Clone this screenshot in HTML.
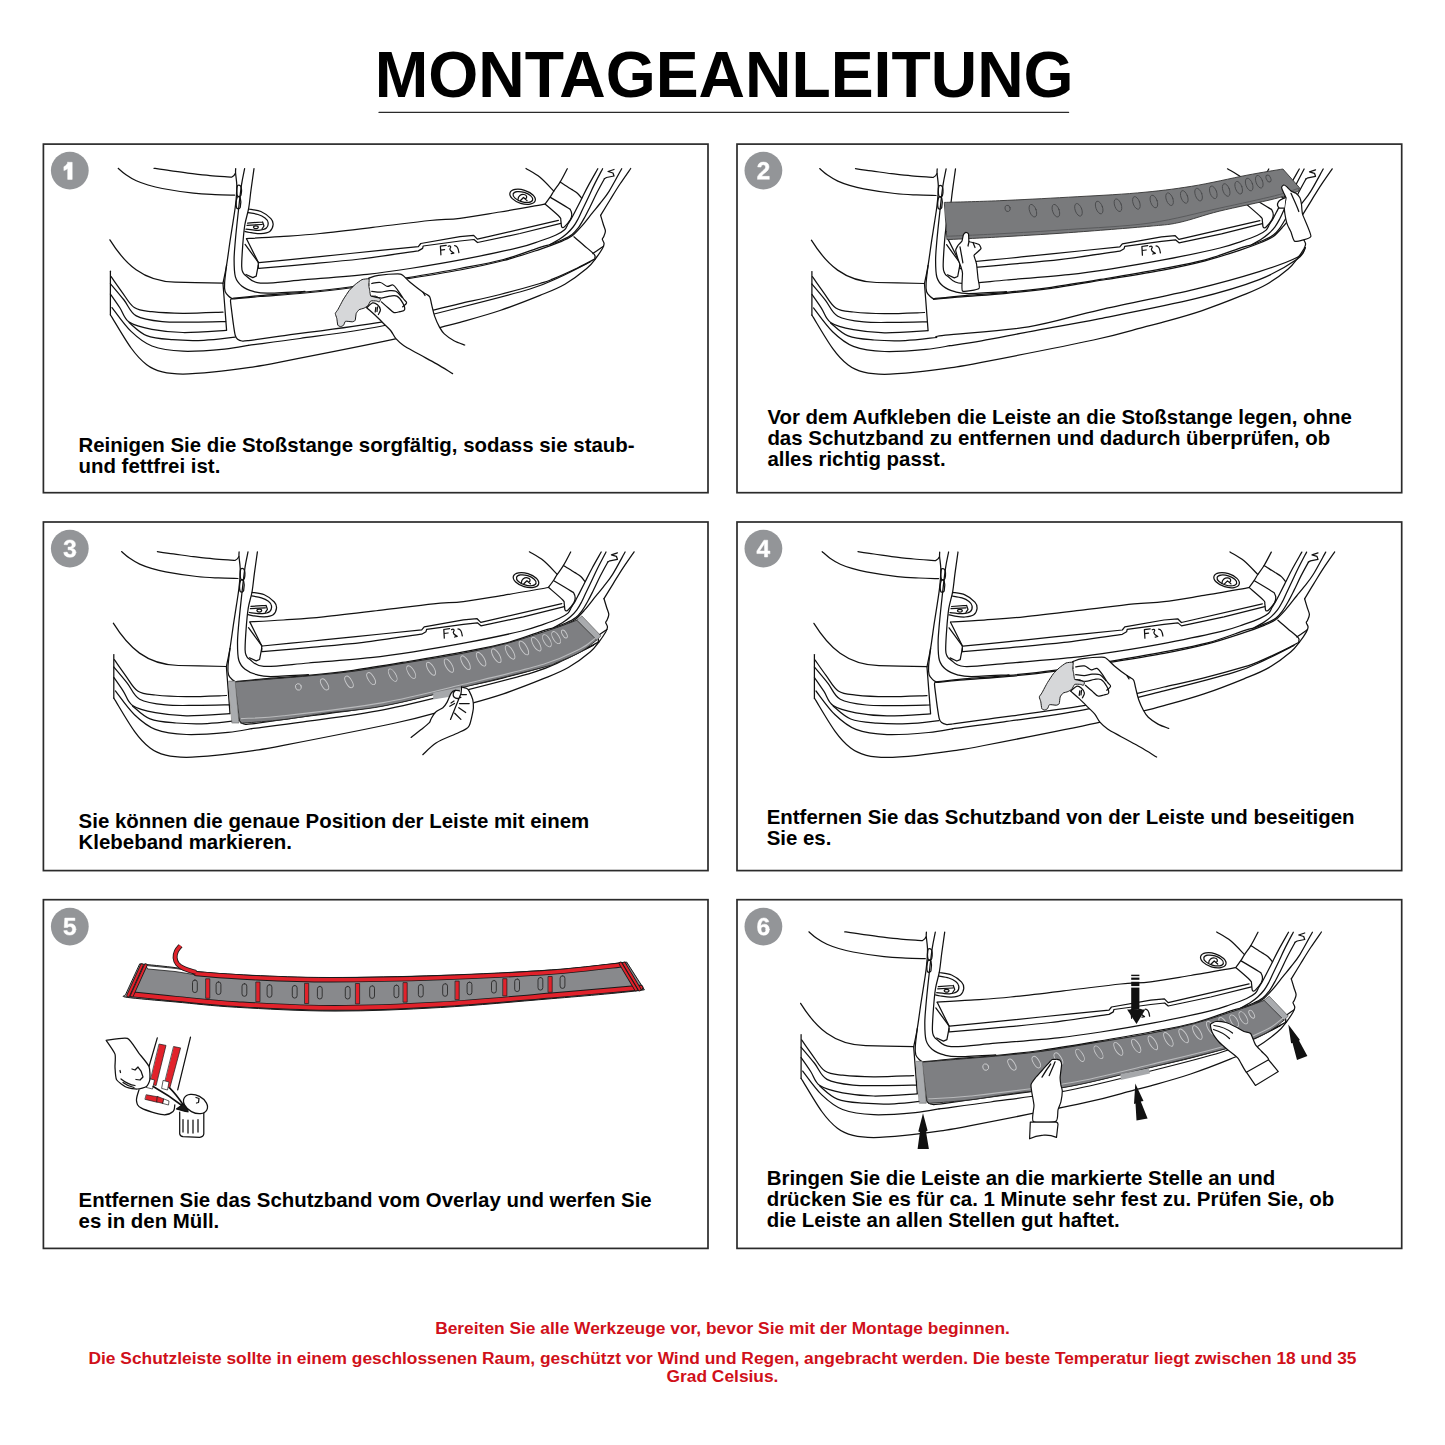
<!DOCTYPE html>
<html><head><meta charset="utf-8">
<style>
html,body{margin:0;padding:0;background:#fff;}
body{width:1445px;height:1445px;position:relative;overflow:hidden;font-family:"Liberation Sans",sans-serif;}
.title{position:absolute;left:374.7px;top:39.8px;font-size:64.3px;font-weight:bold;line-height:71px;color:#000;white-space:nowrap;}
.uline{position:absolute;left:379px;top:111.5px;width:690px;height:1.3px;background:#333;}
.box{position:absolute;width:663px;height:347px;border:1.7px solid #2b2b2b;box-sizing:content-box;}
.num{position:absolute;width:38px;height:38px;border-radius:50%;background:#939598;color:#fff;font-weight:bold;font-size:24.5px;line-height:38px;text-align:center;-webkit-text-stroke:0.9px #fff;}
.txt{position:absolute;font-size:20.43px;font-weight:bold;line-height:21px;color:#000;white-space:nowrap;}
.red{position:absolute;left:0;width:1445px;text-align:center;color:#d0101a;font-weight:bold;font-size:17.36px;line-height:18px;white-space:nowrap;}
svg{position:absolute;left:0;top:0;}
</style></head><body>
<div class="title">MONTAGEANLEITUNG</div>



<div class="txt" style="left:78.5px;top:434.5px">Reinigen Sie die Stoßstange sorgfältig, sodass sie staub-<br>und fettfrei ist.</div>
<div class="txt" style="left:767.4px;top:406.5px">Vor dem Aufkleben die Leiste an die Stoßstange legen, ohne<br>das Schutzband zu entfernen und dadurch überprüfen, ob<br>alles richtig passt.</div>
<div class="txt" style="left:78.6px;top:811.3px">Sie können die genaue Position der Leiste mit einem<br>Klebeband markieren.</div>
<div class="txt" style="left:766.7px;top:807.2px">Entfernen Sie das Schutzband von der Leiste und beseitigen<br>Sie es.</div>
<div class="txt" style="left:78.6px;top:1189.9px">Entfernen Sie das Schutzband vom Overlay und werfen Sie<br>es in den Müll.</div>
<div class="txt" style="left:766.7px;top:1167.7px">Bringen Sie die Leiste an die markierte Stelle an und<br>drücken Sie es für ca. 1 Minute sehr fest zu. Prüfen Sie, ob<br>die Leiste an allen Stellen gut haftet.</div>

<div class="red" style="top:1318.7px">Bereiten Sie alle Werkzeuge vor, bevor Sie mit der Montage beginnen.</div>
<div class="red" style="top:1348.8px">Die Schutzleiste sollte in einem geschlossenen Raum, geschützt vor Wind und Regen, angebracht werden. Die beste Temperatur liegt zwischen 18 und 35<br>Grad Celsius.</div>

<svg width="1445" height="1445" viewBox="0 0 1445 1445" fill="none" stroke="#111" stroke-width="1.25" stroke-linecap="round" stroke-linejoin="round">
<g stroke="#2b2b2b" stroke-width="1.7" fill="none" stroke-linejoin="miter">
<rect x="43.4" y="144.1" width="664.6" height="348.6"/><rect x="737.0" y="144.1" width="664.7" height="348.6"/>
<rect x="43.4" y="522.0" width="664.6" height="348.6"/><rect x="737.0" y="522.0" width="664.7" height="348.6"/>
<rect x="43.4" y="899.7" width="664.6" height="348.7"/><rect x="737.0" y="899.7" width="664.7" height="348.7"/>
</g>
<path d="M379,112.4L1068.6,112.4" stroke="#2a2a2a" stroke-width="1.2"/>
<!--ART-->
<defs><g id="car">
<path d="M118.2,168.3C119.5,169.4 123.0,172.7 126.0,174.8C129.0,176.9 132.6,179.1 136.3,180.8C140.0,182.5 143.7,183.7 148.0,185.0C152.3,186.3 154.7,187.1 162.3,188.5C169.9,189.9 184.6,192.2 193.4,193.2C202.2,194.2 208.1,194.3 215.0,194.6C221.9,194.9 231.3,195.1 234.6,195.2"/>
<path d="M154.0,168.3C156.7,168.7 164.0,169.8 170.0,170.6C176.0,171.4 183.3,172.6 190.0,173.4C196.7,174.2 203.1,175.0 210.0,175.6C216.9,176.2 228.0,176.9 231.6,177.2C233,176.5 235,174.5 235.4,173.3"/>
<path d="M235.7,168.6C235.7,169.4 235.4,170.6 235.6,173.3C235.8,176.0 236.7,181.2 236.8,185.0C236.9,188.8 236.6,192.5 236.4,196.0C236.2,199.5 235.9,201.8 235.4,206.0C234.9,210.2 234.1,215.2 233.2,220.9C232.3,226.6 231.3,232.7 230.2,240.0C229.1,247.3 227.8,257.8 226.6,265.0C225.4,272.2 223.6,280.2 223.0,283.2"/>
<path d="M223.0,283.7C223.3,287.6 224.2,299.2 224.8,307.0C225.4,314.8 226.3,326.5 226.6,330.4"/>
<path d="M226.6,265.0C226.3,268.0 224.8,278.6 224.6,283.0C224.3,287.4 224.4,289.1 225.1,291.4C225.8,293.6 227.8,295.3 229.0,296.5C230.2,297.7 231.5,298.2 232.0,298.5"/>
<path d="M244.6,168.6C244.1,171.3 242.5,178.0 241.5,184.9C240.5,191.8 239.5,200.8 238.5,210.0C237.5,219.2 236.1,231.7 235.4,240.0C234.7,248.3 234.1,253.5 234.1,259.6C234.1,265.8 234.1,272.5 235.4,276.9C236.7,281.3 238.7,283.5 241.7,285.9C244.7,288.3 249.1,290.2 253.4,291.4C257.7,292.6 258.7,293.2 267.3,293.2C275.9,293.2 298.7,291.7 305.0,291.4"/>
<path d="M254.0,168.6C253.5,172.2 251.9,183.4 251.0,190.0C250.1,196.6 249.7,202.4 248.7,208.2C247.7,214.0 245.8,218.7 244.8,225.0C243.8,231.3 243.2,238.9 242.7,245.8C242.2,252.7 241.6,262.1 241.7,266.5C241.8,270.9 242.2,270.9 243.0,272.5C243.8,274.1 243.6,274.4 246.5,276.2C249.4,278.0 250.6,282.5 260.4,283.1C270.1,283.7 287.2,281.2 305.0,279.7C322.8,278.2 349.7,276.2 367.2,274.3C384.7,272.4 394.0,271.0 410.0,268.5C426.0,266.0 444.9,262.9 463.0,259.4C481.1,255.9 505.6,250.8 518.4,247.7C531.2,244.6 533.7,243.1 540.0,241.0C546.3,238.9 551.9,236.9 556.0,235.0C560.1,233.1 562.6,231.6 564.6,229.8C566.6,228.0 566.8,226.1 568.0,224.0C569.2,221.9 570.8,219.7 572.1,217.3C573.4,214.9 574.3,213.1 576.0,209.8C577.7,206.5 580.2,201.6 582.3,197.4C584.4,193.2 586.1,189.7 588.7,184.9C591.3,180.1 596.3,171.4 597.8,168.7"/>
<path d="M237.5,185.5C236.5,188 236.6,194 237.5,196C239,197 240.5,196.5 241,195C241.7,192 241.6,188 240.6,186C239.5,185 238.3,185 237.5,185.5Z"/>
<path d="M237.3,197C236,200 235.8,206 236.8,208.3C238,209.2 239.5,208.8 240.2,207.5C241,204 241,200 240.2,197.5C239.3,196.3 238,196.3 237.3,197Z"/>
<path d="M248.7,209.0C250.7,209.4 257.2,209.9 260.9,211.5C264.6,213.1 268.9,216.5 270.9,218.7C272.9,220.9 273.3,222.7 273.1,224.8C272.9,226.9 271.8,229.9 269.8,231.4C267.8,232.9 264.2,233.4 260.9,233.6C257.6,233.8 252.5,232.9 249.8,232.5C247.1,232.1 245.7,231.6 244.9,231.4"/>
<path d="M248.2,212.6C249.8,212.9 255.2,213.6 258.0,214.5C260.8,215.4 263.3,216.7 265.0,218.0C266.7,219.3 267.9,220.9 268.1,222.6C268.3,224.3 268.0,226.8 266.4,228.1C264.8,229.4 262.1,230.1 258.7,230.3C255.3,230.5 248.1,229.4 246.0,229.2"/>
<path d="M247.6,223.1L262.6,222M247,225.3L262,224.5M262.6,222L264,226L262,229"/>
<path d="M253.5,227.3a2.4,1.4 0 1,0 4.8,0a2.4,1.4 0 1,0 -4.8,0"/>
<path d="M246.5,238.6C252.1,238.3 267.8,237.5 280.0,236.7C292.2,235.8 303.3,235.2 320.0,233.5C336.7,231.8 361.7,228.7 380.0,226.5C398.3,224.3 416.7,221.9 430.0,220.5C443.3,219.1 448.3,219.7 460.0,218.3C471.7,216.9 485.9,214.3 500.0,212.0C514.1,209.7 537.2,205.5 544.7,204.2"/>
<path d="M246.5,238.8L258.3,262.4L258.3,268.3"/>
<path d="M258.9,262.7C266.6,261.9 289.8,259.7 305.0,258.2C320.2,256.7 331.1,255.4 350.0,253.5C368.9,251.6 406.9,247.8 418.3,246.6L420.8,243.5L460,236.6L473.7,235.4L477.4,239.1L558.4,220.4"/>
<path d="M258.9,268.3C266.6,267.6 288.1,265.9 305.0,264.4C321.9,262.8 341.1,261.2 360.0,259.0C378.9,256.8 408.6,252.2 418.3,250.9L422.6,248.4L423.2,246L460,241L474,239.5L477.5,242.5L520,233.5L560.8,223.3"/>
<path d="M245.1,244.4L258.3,262.4M258.3,265.1L256.2,276.2L252.8,277.6L246,274.5"/>
<path d="M526.0,168.5C528.3,170.0 535.4,173.5 540.0,177.3C544.6,181.1 551.5,188.8 553.8,191.1"/>
<path d="M567.3,168.7C566.1,170.9 562.4,178.4 560.1,182.1C557.9,185.8 555.4,188.7 553.8,191.1C552.2,193.5 551.8,194.6 550.4,196.7C549.0,198.8 546.1,202.7 545.2,203.9"/>
<path d="M545.2,204.2C547.6,206.3 556.8,214.0 559.4,216.7C562.0,219.4 560.4,218.6 560.8,220.2C561.1,221.8 561.2,225.2 561.5,226.4C561.8,227.6 562.2,227.5 562.8,227.5C563.4,227.5 563.6,227.7 564.9,226.4C566.2,225.1 569.2,221.4 570.4,219.5C571.5,217.6 571.8,216.3 571.8,214.7C571.8,213.1 571.1,211.0 570.4,209.8C569.7,208.7 571.0,209.9 567.7,207.8C564.4,205.7 553.3,199.1 550.4,197.4"/>
<path d="M560.1,182.1C561.9,183.3 568.2,187.2 571.1,189.1C574.0,190.9 575.7,191.7 577.4,193.2C579.1,194.7 580.8,197.3 581.5,198.1"/>
<path d="M602.6,168.7C601.2,171.4 596.6,180.1 594.2,184.9C591.8,189.7 590.3,193.2 588.3,197.4C586.3,201.6 584.1,206.3 582.4,209.8C580.7,213.3 579.8,215.7 578.3,218.5C576.8,221.3 575.4,224.0 573.5,226.5C571.6,229.0 569.4,231.3 567.0,233.5C564.6,235.7 561.8,237.7 559.0,239.5C556.2,241.3 551.5,243.7 550.0,244.5"/>
<path d="M604.4,178.7L606.5,177.5L614,176L613,173L608,171.5L614,169.5"/>
<path d="M604.4,178.7C603.2,181.0 599.4,187.8 597.0,192.5C594.6,197.2 592.1,202.8 590.0,207.0C587.9,211.2 586.5,214.1 584.6,217.5C582.7,220.9 580.6,224.7 578.5,227.5C576.4,230.3 574.9,232.4 572.1,234.5C569.4,236.6 565.7,238.3 562.0,240.0C558.3,241.7 553.7,243.3 550.0,244.5C546.3,245.7 547.7,244.8 540.0,247.3C532.3,249.8 516.9,256.0 503.6,259.5C490.3,263.0 476.5,265.4 460.0,268.5C443.5,271.6 423.0,275.1 404.6,278.2C386.2,281.3 366.4,284.7 349.8,287.0C333.2,289.3 320.0,290.6 305.0,292.0C290.0,293.4 272.2,294.4 260.0,295.5C247.8,296.6 236.7,298.0 232.0,298.5"/>
<path d="M621.7,168.7C619.6,172.4 612.8,185.3 609.2,191.1C605.6,196.9 602.8,199.9 600.0,203.5C597.2,207.1 595.7,208.8 592.6,212.6C589.5,216.4 585.0,222.5 581.5,226.4C578.0,230.3 575.2,233.6 571.8,236.1C568.3,238.6 566.1,239.5 560.8,241.7C555.5,243.9 549.5,246.2 540.0,249.3C530.5,252.4 516.9,257.1 503.6,260.5C490.3,263.9 476.5,266.9 460.0,270.0C443.5,273.1 423.0,276.2 404.6,279.2C386.2,282.2 366.4,285.7 349.8,288.0C333.2,290.3 320.0,291.6 305.0,293.0C290.0,294.4 272.2,295.5 260.0,296.5C247.8,297.5 236.7,298.6 232.0,299.0"/>
<path d="M630.7,168.5C628.9,171.1 623.5,178.8 620.0,184.0C616.5,189.2 613.2,194.8 610.0,200.0C606.8,205.2 602.2,212.8 600.6,215.4"/>
<path d="M600.6,215.4C601.1,217.0 602.7,222.4 603.5,225.0C604.3,227.6 605.4,229.2 605.4,231.2C605.4,233.2 604.0,235.7 603.5,237.0C603.0,238.3 602.2,238.2 602.3,239.3C602.4,240.4 604.1,242.1 604.1,243.7C604.1,245.3 603.6,246.3 602.3,248.7C600.9,251.1 598.6,254.7 596.0,258.0C593.4,261.3 591.9,264.2 586.7,268.6C581.5,273.0 572.7,279.7 564.9,284.2C557.1,288.7 550.8,291.0 540.0,295.4C529.2,299.8 513.3,306.0 500.0,310.5C486.7,315.0 469.9,319.5 460.0,322.3C450.1,325.1 452.0,324.4 440.7,327.3C429.4,330.2 418.8,333.9 392.0,339.7C365.2,345.5 303.7,357.5 280.0,362.1C256.3,366.7 261.0,365.7 250.0,367.3C239.0,368.9 225.4,370.8 214.2,371.9C203.0,373.0 191.7,374.0 183.0,374.0C174.3,374.0 168.4,373.4 162.3,371.9C156.2,370.3 151.9,368.7 146.7,364.7C141.5,360.7 137.1,356.3 131.1,348.0C125.0,339.7 113.9,320.3 110.4,314.8"/>
<path d="M109.9,239.9C125,264 143,281.5 175,282.2C190,282.5 210,282.9 223,283.2"/>
<path d="M110.4,271.2L110.4,314.8"/>
<path d="M110.9,276.4C112.8,279.0 118.1,286.8 122.0,292.0C125.9,297.2 129.3,304.3 134.3,307.6C139.3,310.9 143.8,310.8 151.9,311.7C160.0,312.6 171.2,313.2 183.0,313.3C194.8,313.4 216.3,312.4 223.0,312.2"/>
<path d="M110.4,283.7C112.7,286.4 119.7,294.6 124.0,300.0C128.3,305.4 129.9,312.3 136.3,315.9C142.7,319.5 152.8,320.6 162.3,321.6C171.8,322.6 182.9,322.1 193.4,322.1C203.9,322.1 220.2,321.7 225.6,321.6"/>
<path d="M110.4,294.1C112.0,296.4 116.9,303.3 120.0,308.0C123.1,312.7 123.8,318.5 129.1,322.1C134.4,325.7 142.9,327.7 151.9,329.4C160.9,331.1 170.6,332.3 183.0,332.5C195.4,332.7 218.9,330.8 226.1,330.4"/>
<path d="M129.1,322.6C132.0,324.8 139.4,332.8 146.7,335.6C154.0,338.5 163.2,338.9 172.7,339.7C182.2,340.5 193.4,340.7 203.8,340.3C214.2,339.9 229.8,337.7 235.0,337.2"/>
<path d="M112.0,307.6C115.2,311.6 124.4,325.0 131.1,331.4C137.8,337.8 143.2,342.7 151.9,346.0C160.6,349.3 170.9,350.7 183.0,351.2C195.1,351.7 213.7,350.1 224.6,349.1C235.5,348.1 244.4,346.0 248.4,345.4"/>
<path d="M440.4,246.2L440.9,254.8M440.4,246.2L446.2,245.4M440.7,250.2L444.6,249.7M448.2,246.3C450,245.3 451.6,246.4 450.2,248.2C449,249.8 451.2,251.6 453.8,253.1L451.2,253.7M454.6,245.6C456.8,245.6 458.4,248.6 458.9,252.6"/>
<ellipse cx="522.6" cy="196.8" rx="13.2" ry="6.8" transform="rotate(17 522.6 196.8)"/>
<ellipse cx="522.9" cy="197" rx="10.2" ry="4.8" transform="rotate(17 522.9 197)"/>
<path d="M518,199.5C518,196 521,194 524,194.5C527,195 527.5,197.5 525.5,199M520.5,200.5L523.5,197.5L527,200.5"/>
</g>
<g id="ins">
<path d="M573.9,236.8C575.6,238.2 580.6,242.6 584.0,245.5C587.4,248.4 592.4,252.2 594.2,254.3C596.0,256.4 594.7,257.4 594.8,258.0"/>
<path d="M592.9,253.6C593.8,253.0 596.2,251.2 598.0,250.0C599.8,248.8 602.6,246.8 603.5,246.2"/>
<path d="M595.4,258.6C592.4,260.2 584.5,264.6 577.4,268.0C570.2,271.4 558.7,276.6 552.5,279.2C546.3,281.8 548.8,280.9 540.0,283.5C531.2,286.1 513.3,291.1 500.0,294.5C486.7,297.9 470.9,301.1 460.0,303.6C449.1,306.2 447.9,306.7 434.5,309.8C421.1,312.9 405.4,317.9 379.7,322.3C353.9,326.7 301.9,333.1 280.0,336.2C258.1,339.2 254.7,339.8 248.4,340.6C242.1,341.4 243.8,341.2 242.0,341.0C240.2,340.8 238.7,340.1 237.6,339.2C236.5,338.3 236.0,337.9 235.3,335.5C234.6,333.1 234.1,328.9 233.5,325.0C232.9,321.1 232.3,316.0 231.8,312.0C231.3,308.0 230.6,303.2 230.5,301.0C230.4,298.8 231.2,299.1 231.3,298.7"/>
<path d="M590.0,262.0C585.0,264.5 570.0,272.5 560.0,277.0C550.0,281.5 546.7,283.9 530.0,289.0C513.3,294.1 485.1,301.2 460.0,307.5C434.9,313.8 406.4,321.3 379.7,326.5C353.0,331.7 321.9,335.4 300.0,338.5C278.1,341.6 257.0,344.2 248.4,345.4"/>
</g>
<g id="hand1"><path d="M368.8,278.2C369.4,275.7 375.5,275.7 378.4,275.3C381.3,274.9 395.4,273.8 397.8,273.8C400.2,273.8 401.4,274.4 402.7,275.3C404.0,276.2 408.4,280.8 410.4,282.5C412.4,284.2 421.4,291.0 423.0,292.2C424.6,293.4 426.2,294.1 426.9,294.6C427.6,295.1 429.3,296.1 429.8,297.1C430.3,298.1 431.2,302.9 431.7,304.8C432.2,306.7 433.9,314.2 434.7,316.4C435.5,318.6 438.5,325.4 439.5,327.1C440.5,328.9 442.9,332.5 444.3,333.9C445.8,335.3 452.0,339.6 454.0,340.7C456.0,341.8 463.1,343.9 464.7,345.0C466.3,346.1 471.2,349.1 470.0,352.0C468.8,354.9 455.9,372.4 452.6,373.6C449.3,374.8 440.1,365.9 436.6,363.9C433.1,361.9 420.5,355.1 417.2,353.3C413.9,351.5 405.7,347.0 403.6,345.5C401.5,344.0 397.2,340.1 395.9,338.7C394.6,337.2 392.2,332.4 391.0,331.0C389.8,329.6 385.9,325.8 384.3,324.2C382.8,322.6 377.2,317.1 375.5,315.5C373.8,313.9 367.2,309.2 366.8,307.7C366.4,306.1 371.8,302.9 372.0,300.0C372.2,297.1 368.2,280.7 368.8,278.2Z" fill="#fff" stroke="none"/><path d="M368.8,278.7C368.2,278.7 363.1,279.1 362.0,279.6C360.9,280.1 356.2,283.6 355.2,284.5C354.1,285.4 350.4,289.1 349.4,290.3C348.4,291.5 344.6,297.4 343.6,299.0C342.6,300.6 338.5,308.5 337.8,309.7C337.1,310.9 335.4,312.8 335.3,313.5C335.2,314.2 336.6,317.4 336.8,318.4C337.0,319.4 337.5,324.5 337.8,325.2C338.1,325.9 340.2,326.6 340.7,326.6C341.2,326.6 343.2,325.6 343.6,325.2C344.0,324.8 344.8,321.6 345.5,321.3C346.2,321.0 351.5,321.9 352.3,321.8C353.1,321.7 354.9,321.0 355.2,320.3C355.5,319.6 355.9,314.4 356.2,313.5C356.5,312.6 358.5,310.1 359.1,309.7C359.7,309.3 363.2,308.5 363.9,308.2C364.6,307.9 367.2,306.4 367.8,305.8C368.4,305.2 370.0,301.4 370.7,301.0C371.4,300.6 375.8,300.9 376.5,301.0C377.2,301.1 379.1,302.1 379.4,301.9C379.7,301.7 380.7,299.5 380.4,299.0C380.1,298.5 376.3,296.3 375.5,296.1C374.7,295.9 371.2,296.6 370.7,296.1C370.2,295.6 369.9,291.2 369.7,290.3C369.5,289.4 368.8,286.3 368.8,285.4C368.8,284.5 369.2,280.2 369.2,279.6C369.2,279.0 369.4,278.7 368.8,278.7Z" fill="#d6d7d9" stroke="#1a1a1a" stroke-width="1"/><path d="M368.8,278.2C370.4,277.7 373.6,276.0 378.4,275.3C383.2,274.6 393.8,273.8 397.8,273.8C401.9,273.8 400.6,273.9 402.7,275.3C404.8,276.8 407.0,279.7 410.4,282.5C413.8,285.3 420.2,290.2 423.0,292.2C425.8,294.2 425.8,293.8 426.9,294.6C428.0,295.4 429.0,295.4 429.8,297.1C430.6,298.8 430.9,301.6 431.7,304.8C432.5,308.0 433.4,312.7 434.7,316.4C436.0,320.1 437.9,324.2 439.5,327.1C441.1,330.0 441.9,331.6 444.3,333.9C446.7,336.2 450.6,338.8 454.0,340.7C457.4,342.6 462.9,344.3 464.7,345.0"/>
<path d="M366.8,307.7C368.2,309.0 372.6,312.8 375.5,315.5C378.4,318.2 381.7,321.6 384.3,324.2C386.9,326.8 389.1,328.6 391.0,331.0C392.9,333.4 393.8,336.3 395.9,338.7C398.0,341.1 400.1,343.1 403.6,345.5C407.2,347.9 411.7,350.2 417.2,353.3C422.7,356.4 430.7,360.5 436.6,363.9C442.5,367.3 449.9,372.0 452.6,373.6"/>
<path d="M371.7,283.5C373.1,283.3 377.8,282.0 380.4,282.5C383.0,283.0 385.1,286.0 387.2,286.4C389.3,286.8 391.2,284.4 393.0,285.0C394.8,285.6 396.0,288.0 397.8,290.3C399.6,292.6 402.1,296.9 403.6,299.0C405.1,301.1 406.8,301.6 406.6,302.9C406.5,304.2 403.4,306.1 402.7,306.8"/>
<path d="M371.7,291.3C373.1,291.4 377.7,292.3 380.4,292.2C383.1,292.1 385.5,290.9 388.1,290.8C390.7,290.7 393.6,290.2 395.9,291.3C398.2,292.4 400.7,296.1 401.7,297.1"/>
<path d="M371.7,296.1C373.3,296.4 378.3,298.0 381.4,298.0C384.5,298.0 387.5,296.4 390.1,296.1C392.7,295.8 394.8,295.0 396.9,296.1C399.0,297.2 401.4,300.6 402.7,302.9C404.0,305.2 405.1,308.2 404.6,309.7C404.1,311.1 401.6,311.1 399.8,311.6C398.0,312.1 395.9,313.2 394.0,312.6C392.1,312.0 390.2,309.5 388.1,307.7C386.0,305.9 382.5,302.9 381.4,301.9"/>
<path d="M366.8,307.7C367.8,306.9 370.8,303.4 372.6,302.9C374.4,302.4 376.2,303.7 377.5,304.8C378.8,305.9 380.2,308.1 380.4,309.7C380.5,311.3 378.7,313.7 378.4,314.5"/>
<path d="M375.8,307.5L375.2,312M377.5,307L377,311.5"/>
<path d="M423,292.2L425,295.5"/></g>
<g id="strip"><path d="M231.8,298.6C236.5,298.2 247.8,297.3 260.0,296.3C272.2,295.3 290.0,294.0 305.0,292.6C320.0,291.2 333.2,290.2 349.8,288.0C366.4,285.8 386.2,282.2 404.6,279.2C423.0,276.2 443.5,273.0 460.0,269.8C476.5,266.6 490.3,263.5 503.6,260.0C516.9,256.5 530.8,251.5 540.0,248.6C549.2,245.7 553.1,244.4 558.7,242.4C564.3,240.4 571.1,237.7 573.6,236.8L593.5,256.6C590.8,258.6 584.2,264.6 577.4,268.5C570.6,272.4 558.7,277.1 552.5,279.7C546.3,282.3 555.4,279.9 540.0,284.0C524.6,288.1 486.7,297.5 460.0,304.0C433.3,310.5 402.5,318.5 379.7,322.8C356.9,327.1 339.8,327.6 323.2,329.8C306.6,332.1 293.6,334.7 280.0,336.3C266.4,337.9 248.3,339.2 241.3,339.7C234.3,340.2 238.8,339.6 238.0,339.2C237.2,338.8 236.7,337.7 236.4,337.4Z" fill="#7e7f82" stroke="#2a2a2a" stroke-width="1"/>
<path d="M225.7,297.8 L231.8,297.8 L235.6,339.7 L228.8,339.7Z" fill="#a9abae" stroke="#666" stroke-width="0.6"/>
<path d="M573.6,236.7 L578.5,232.6 L597.6,252.6 L593.5,256.6Z" fill="#a9abae" stroke="#444" stroke-width="0.6"/>
<path d="M238.0,335.3C245.0,334.8 256.4,335.2 280.0,332.5C303.6,329.8 349.7,324.6 379.7,319.3C409.7,314.1 433.3,307.4 460.0,301.0C486.7,294.6 520.5,286.9 540.0,281.0C559.5,275.1 568.3,269.9 577.0,265.5C585.7,261.1 589.5,256.6 592.0,254.8" stroke="#b9babc" stroke-width="1.1"/>
<g stroke="#c9cacc" stroke-width="0.9" fill="none"><ellipse cx="295.0" cy="303.6" rx="2.9" ry="3.3" transform="rotate(-20 295.0 303.6)"/><ellipse cx="321.2" cy="301.1" rx="2.925" ry="6.225" transform="rotate(-31 321.2 301.1)"/><ellipse cx="345.6" cy="298.6" rx="2.9499999999999997" ry="6.45" transform="rotate(-31 345.6 298.6)"/><ellipse cx="367.7" cy="295.3" rx="2.975" ry="6.675" transform="rotate(-31 367.7 295.3)"/><ellipse cx="389.3" cy="291.8" rx="3.0" ry="6.9" transform="rotate(-31 389.3 291.8)"/><ellipse cx="407.8" cy="288.8" rx="3.025" ry="7.125" transform="rotate(-31 407.8 288.8)"/><ellipse cx="427.6" cy="285.4" rx="3.05" ry="7.35" transform="rotate(-31 427.6 285.4)"/><ellipse cx="445.5" cy="282.3" rx="3.0749999999999997" ry="7.575" transform="rotate(-31 445.5 282.3)"/><ellipse cx="462.1" cy="279.4" rx="3.1" ry="7.8" transform="rotate(-31 462.1 279.4)"/><ellipse cx="477.7" cy="275.9" rx="3.1" ry="7.8" transform="rotate(-31 477.7 275.9)"/><ellipse cx="492.9" cy="272.4" rx="3.1" ry="7.8" transform="rotate(-31 492.9 272.4)"/><ellipse cx="506.7" cy="269.0" rx="3.1" ry="7.8" transform="rotate(-31 506.7 269.0)"/><ellipse cx="520.5" cy="264.7" rx="3.1" ry="7.8" transform="rotate(-31 520.5 264.7)"/><ellipse cx="532.9" cy="260.8" rx="3.1" ry="7.8" transform="rotate(-31 532.9 260.8)"/><ellipse cx="543.5" cy="257.4" rx="3.1" ry="6.8" transform="rotate(-31 543.5 257.4)"/><ellipse cx="552.7" cy="254.3" rx="3.1" ry="6.8" transform="rotate(-31 552.7 254.3)"/><ellipse cx="561.0" cy="250.7" rx="2.1" ry="4.4" transform="rotate(-30 561.0 250.7)"/></g></g></defs>
<use href="#car"/><use href="#ins"/><use href="#hand1"/>
<g transform="translate(704,383.4)"><use href="#car"/><use href="#ins"/><use href="#hand1"/></g>
<g transform="translate(3.4,383.3)"><use href="#car"/><use href="#ins"/><use href="#strip"/></g>
<g transform="translate(690.7,763.5)"><use href="#car"/><use href="#ins"/><use href="#strip"/></g>
<g transform="translate(701.5,0.3)"><use href="#car"/></g>
<path d="M235.0,337.2C236.5,336.8 228.5,336.6 243.8,334.8C259.1,333.0 301.1,330.7 326.9,326.5C352.7,322.3 370.6,315.8 398.5,309.5C426.4,303.2 467.5,295.2 494.0,288.8C520.5,282.4 540.7,276.6 557.7,271.3C574.7,266.0 588.2,261.0 595.9,257.0C603.6,253.0 602.5,249.0 603.8,247.4" transform="translate(701.5,0.3)"/>
<path d="M248.4,345.4C253.7,344.6 266.4,342.9 280.0,340.5C293.6,338.1 310.2,334.7 330.0,331.0C349.8,327.3 371.2,323.7 398.5,318.3C425.8,312.9 467.5,304.9 494.0,298.4C520.5,291.9 540.7,285.9 557.7,279.3C574.7,272.7 588.2,263.9 595.9,258.6C603.6,253.3 602.5,249.3 603.8,247.4" transform="translate(701.5,0.3)"/>
<path d="M944.7,202.4C953.8,202.1 978.6,201.6 999.2,200.7C1019.8,199.8 1045.3,198.5 1068.4,197.2C1091.5,195.9 1117.1,194.7 1137.6,192.9C1158.1,191.1 1173.3,189.2 1191.5,186.3C1209.7,183.4 1231.7,178.1 1246.9,175.2C1262.1,172.3 1276.9,170.0 1282.9,169.0L1299.5,187.7L1298.8,191.1C1294.8,192.4 1287.9,195.5 1274.6,198.8C1261.3,202.2 1235.0,207.3 1219.2,211.2C1203.4,215.1 1191.5,219.8 1180.0,222.3C1168.5,224.8 1168.6,224.5 1150.0,226.2C1131.4,227.9 1093.5,230.9 1068.4,232.7C1043.3,234.5 1019.4,235.8 999.2,237.0C979.0,238.2 955.9,239.2 947.3,239.6Z" fill="#797a7c" stroke="#333" stroke-width="0.9"/>
<path d="M947.0,236.3C955.7,235.9 979.0,234.9 999.2,233.8C1019.4,232.7 1043.3,231.3 1068.4,229.5C1093.5,227.7 1124.9,226.6 1150.0,223.0C1175.1,219.4 1198.4,212.7 1219.2,208.2C1240.0,203.7 1261.4,199.1 1274.6,195.8C1287.8,192.5 1294.5,189.6 1298.5,188.3" stroke="#5a5b5d" stroke-width="1"/>
<g stroke="#4a4b4d" stroke-width="0.9" fill="none"><ellipse cx="1007.6" cy="208.4" rx="2.6" ry="3.2" transform="rotate(-15 1007.6 208.4)"/><ellipse cx="1032.9" cy="210.7" rx="3.3" ry="6.6" transform="rotate(-20 1032.9 210.7)"/><ellipse cx="1055.9" cy="210.7" rx="3.3" ry="6.6" transform="rotate(-20 1055.9 210.7)"/><ellipse cx="1078.5" cy="209.8" rx="3.3" ry="6.6" transform="rotate(-20 1078.5 209.8)"/><ellipse cx="1099.2" cy="207.5" rx="3.3" ry="6.6" transform="rotate(-20 1099.2 207.5)"/><ellipse cx="1118.0" cy="205.2" rx="3.3" ry="6.6" transform="rotate(-20 1118.0 205.2)"/><ellipse cx="1136.4" cy="202.9" rx="3.3" ry="6.6" transform="rotate(-20 1136.4 202.9)"/><ellipse cx="1153.9" cy="201.5" rx="3.3" ry="6.6" transform="rotate(-20 1153.9 201.5)"/><ellipse cx="1169.6" cy="199.2" rx="3.3" ry="6.6" transform="rotate(-20 1169.6 199.2)"/><ellipse cx="1184.3" cy="196.9" rx="3.3" ry="6.6" transform="rotate(-20 1184.3 196.9)"/><ellipse cx="1198.6" cy="194.6" rx="3.3" ry="6.6" transform="rotate(-20 1198.6 194.6)"/><ellipse cx="1213.3" cy="192.3" rx="3.3" ry="6.6" transform="rotate(-20 1213.3 192.3)"/><ellipse cx="1226.2" cy="190.0" rx="3.3" ry="6.6" transform="rotate(-20 1226.2 190.0)"/><ellipse cx="1238.7" cy="187.7" rx="3.3" ry="6.6" transform="rotate(-20 1238.7 187.7)"/><ellipse cx="1249.2" cy="184.5" rx="3.3" ry="6.6" transform="rotate(-20 1249.2 184.5)"/><ellipse cx="1259.3" cy="181.7" rx="3.3" ry="6.6" transform="rotate(-20 1259.3 181.7)"/><ellipse cx="1268.5" cy="178.5" rx="2.2" ry="3.6" transform="rotate(-25 1268.5 178.5)"/></g>
<path d="M965.9,232.3C966.3,232.2 968.2,233.2 968.5,234.0C968.8,234.8 968.6,240.8 969.0,241.5C969.4,242.2 972.2,242.2 973.0,242.5C973.8,242.8 978.3,244.0 979.0,244.5C979.7,245.0 981.2,247.8 981.0,248.5C980.8,249.2 977.6,251.9 977.0,252.5C976.4,253.1 974.0,254.6 974.0,255.5C974.0,256.4 976.2,261.9 976.5,263.8C976.8,265.7 977.8,276.2 978.0,278.3C978.2,280.4 980.3,287.4 979.0,288.5C977.7,289.6 963.9,292.3 962.5,291.0C961.1,289.7 962.6,275.4 962.5,273.4C962.4,271.4 961.4,268.2 961.0,267.0C960.6,265.8 958.4,260.4 958.0,259.0C957.6,257.6 955.7,251.3 955.7,250.2C955.7,249.1 957.6,246.1 958.1,245.3C958.6,244.5 961.6,241.9 962.0,241.0C962.4,240.1 963.1,235.4 963.4,234.7C963.7,234.0 965.5,232.4 965.9,232.3Z" fill="#fff" stroke="#111" stroke-width="1.2"/>
<path d="M960,246.8C961,252 962,258 962.9,262.8M969,241.5L968,246M973,242.5L975,247.5"/>
<path d="M1283.8,185.0C1283.4,185.1 1281.6,186.6 1281.6,187.2C1281.6,187.8 1282.9,191.2 1283.3,192.1C1283.7,193.0 1285.8,197.0 1286.0,197.7C1286.2,198.4 1285.6,200.1 1285.5,201.0C1285.4,201.9 1284.4,207.2 1284.4,208.8C1284.4,210.4 1285.7,218.4 1286.0,219.8C1286.3,221.2 1287.3,224.4 1287.7,225.4C1288.1,226.4 1290.4,230.7 1291.0,232.0C1291.6,233.3 1293.2,241.0 1294.9,241.4C1296.6,241.8 1310.3,238.7 1310.9,236.4C1311.5,234.1 1303.4,217.0 1302.6,214.3C1301.8,211.6 1301.7,205.7 1301.5,204.3C1301.3,202.9 1300.4,198.6 1299.9,197.7C1299.4,196.8 1296.7,193.9 1296.0,193.3C1295.3,192.7 1291.8,191.6 1291.0,191.0C1290.2,190.4 1287.2,187.1 1286.6,186.6C1286.0,186.1 1284.2,184.9 1283.8,185.0Z" fill="#fff" stroke="#111" stroke-width="1.2"/>
<path d="M1285.5,197.7C1282,199 1279,200 1278.3,202.1C1277,204 1277,206 1279.4,208.2L1284.4,208.2" fill="#fff"/>
<path d="M1291,193.3C1294,200 1297,206 1298.8,211.5"/>
<path d="M433.2,692.8 L460.9,686.9 L460.9,694.9 L433.2,699.4Z" fill="#a6a8ab" stroke="none"/>
<path d="M411.1,737.4C412.7,736.1 417.8,732.2 420.8,729.8C423.8,727.4 427.4,724.7 429.1,722.9C430.8,721.1 430.0,720.6 431.1,718.8C432.2,716.9 434.0,713.6 436.0,711.8C438.0,709.9 441.0,709.3 442.9,707.7C444.8,706.1 445.7,704.5 447.1,702.1C448.5,699.7 449.8,695.1 451.2,693.1C452.6,691.1 454.0,690.8 455.4,690.4C456.8,690.0 458.5,691.4 459.5,690.8C460.5,690.2 460.5,687.3 461.6,686.9C462.8,686.5 465.1,687.6 466.4,688.3C467.7,689.0 468.1,689.2 469.2,691.1C470.2,693.0 472.0,696.6 472.7,699.4C473.4,702.2 473.6,704.5 473.4,707.7C473.2,710.9 472.0,715.8 471.3,718.8C470.6,721.8 470.1,724.0 469.2,725.7C468.3,727.4 468.0,727.7 465.7,729.1C463.4,730.5 460.3,731.7 455.4,734.0C450.4,736.3 441.4,739.5 436.0,743.0C430.6,746.5 425.0,752.8 422.8,754.7L405,752Z" fill="#fff" stroke="none"/>
<path d="M411.1,737.4C412.7,736.1 417.8,732.2 420.8,729.8C423.8,727.4 427.4,724.7 429.1,722.9C430.8,721.1 430.0,720.6 431.1,718.8C432.2,716.9 434.0,713.6 436.0,711.8C438.0,709.9 441.0,709.3 442.9,707.7C444.8,706.1 445.7,704.5 447.1,702.1C448.5,699.7 449.8,695.1 451.2,693.1C452.6,691.1 454.0,690.8 455.4,690.4C456.8,690.0 458.8,690.7 459.5,690.8"/>
<path d="M461.6,686.9C462.4,687.1 465.1,687.6 466.4,688.3C467.7,689.0 468.1,689.2 469.2,691.1C470.2,693.0 472.0,696.6 472.7,699.4C473.4,702.2 473.6,704.5 473.4,707.7C473.2,710.9 472.0,715.8 471.3,718.8C470.6,721.8 470.1,724.0 469.2,725.7C468.3,727.4 468.0,727.7 465.7,729.1C463.4,730.5 460.3,731.7 455.4,734.0C450.4,736.3 441.4,739.5 436.0,743.0C430.6,746.5 425.0,752.8 422.8,754.7"/>
<path d="M455.4,690.4C453,692 452.5,695 454,697C456,699 459,698.5 460.9,697.3M461.6,687L461,694M450.5,719.4L460.9,693.8M454.7,713.2L460.9,719.4M458.8,707.7L465.7,712.5M459.5,703.5L469.2,703.5M461.6,694.5L466.4,694.5M449.8,706.3L454.5,703.5M451,703L454,701"/>
<path d="M1120.6,1074.1 L1148.8,1068.2 L1150.0,1073.5 L1120.6,1080.0Z" fill="#a6a8ab" stroke="none"/>
<g fill="#111" stroke="none">
<path d="M923.0,1113.3 L927.6,1130.5 L926.0,1131.7 L928.9,1149.0 L917.6,1149.0 L919.9,1132.0 L918.3,1131.5Z"/>
<path d="M1135.3,1083.5 L1143.5,1101.0 L1140.8,1101.5 L1147.6,1118.5 L1136.5,1120.6 L1135.5,1103.5 L1134.0,1104.0Z"/>
<path d="M1288.3,1024.5 L1299.8,1039.8 L1299.1,1040.8 L1307.4,1056.0 L1297.0,1060.0 L1292.5,1043.0 L1291.1,1043.2Z"/>
<rect x="1131.2" y="974.7" width="8.2" height="1.4"/><rect x="1131.2" y="977.6" width="8.2" height="2.2"/><rect x="1131.2" y="981.8" width="8.2" height="4.3"/><rect x="1131.2" y="987.6" width="8.2" height="22"/>
<path d="M1127.1,1009.4 L1145.3,1009.4 L1136.5,1024.1Z"/>
</g>
<path d="M1031.1,1084.3C1031.5,1082.8 1034.3,1079.2 1035.4,1077.8C1036.5,1076.4 1040.7,1072.0 1042.0,1070.5C1043.3,1069.0 1047.5,1064.4 1048.5,1063.3C1049.5,1062.2 1051.5,1060.0 1052.2,1059.6C1052.9,1059.2 1054.6,1059.3 1055.1,1059.3C1055.6,1059.3 1056.7,1059.2 1057.2,1059.3C1057.7,1059.4 1059.7,1059.8 1060.1,1060.3C1060.5,1060.8 1061.5,1063.0 1061.6,1064.0C1061.7,1065.0 1061.1,1069.1 1060.9,1070.5C1060.8,1071.9 1060.1,1076.3 1060.1,1077.8C1060.1,1079.3 1060.7,1083.8 1060.9,1085.1C1061.1,1086.4 1062.3,1089.2 1062.3,1090.9C1062.3,1092.6 1061.3,1099.9 1060.9,1101.8C1060.5,1103.7 1058.5,1107.8 1058.0,1109.8C1057.5,1111.8 1058.3,1120.2 1055.8,1121.4C1053.3,1122.6 1035.5,1123.0 1033.3,1121.4C1031.1,1119.8 1034.2,1108.3 1034.0,1105.4C1033.8,1102.5 1032.1,1094.4 1031.8,1092.3C1031.5,1090.2 1030.7,1085.8 1031.1,1084.3Z" fill="#fff" stroke="#111" stroke-width="1.2"/>
<path d="M1030.3,1122.1L1056.5,1122.1C1057.5,1122.5 1058,1123.2 1058,1124.3L1056.5,1137.4C1052,1135.5 1047,1134.8 1043.4,1135.2C1038,1135.6 1033,1137 1029.6,1138.8L1030.3,1122.1Z" fill="#fff" stroke="#111" stroke-width="1.2"/>
<path d="M1042,1077.1C1045,1072 1048,1067.5 1050.7,1064M1049.2,1075.6C1051.5,1070 1053.5,1065.5 1055.1,1061.8"/>
<path d="M1210.5,1024.5C1210.9,1023.5 1214.5,1021.7 1216.0,1021.5C1217.5,1021.3 1224.0,1022.0 1226.0,1022.5C1228.0,1023.0 1234.2,1026.1 1236.0,1027.0C1237.8,1027.9 1242.5,1030.8 1244.0,1031.5C1245.5,1032.2 1249.5,1032.2 1250.6,1033.5C1251.7,1034.8 1254.3,1042.8 1255.4,1044.6C1256.5,1046.4 1260.4,1050.0 1261.7,1051.5C1263.0,1053.0 1269.3,1057.8 1268.6,1059.8C1267.9,1061.8 1257.2,1070.8 1255.0,1072.0C1252.8,1073.2 1248.1,1073.6 1246.4,1072.2C1244.7,1070.8 1239.9,1060.6 1238.1,1058.4C1236.3,1056.2 1229.9,1051.6 1228.0,1050.0C1226.1,1048.4 1220.6,1043.8 1219.0,1042.0C1217.4,1040.2 1212.8,1033.8 1212.0,1032.0C1211.2,1030.2 1210.1,1025.5 1210.5,1024.5Z" fill="#fff" stroke="#111" stroke-width="1.2"/>
<path d="M1246.4,1072.2 L1268.6,1059.8 L1278.3,1071.6 L1255.4,1085.4Z" fill="#fff" stroke="#111" stroke-width="1.2"/>
<path d="M1214,1025.5C1221,1026.5 1228,1029.5 1232.5,1033M1213.5,1029.5C1220,1031.5 1225.5,1034.5 1229.5,1038.5"/>
<path d="M140.1,963.9C146.1,964.5 166.6,966.4 175.9,967.7C185.2,969.0 183.0,970.2 195.7,971.5C208.4,972.8 229.6,974.3 252.0,975.3C274.4,976.3 298.6,977.5 330.0,977.5C361.4,977.5 403.8,976.7 440.7,975.4C477.6,974.1 520.4,972.1 551.4,969.9C582.4,967.7 614.2,963.4 626.7,962.1L644.4,989.8C628.9,992.2 585.4,995.9 551.4,998.7C517.4,1001.5 476.8,1005.4 440.7,1007.5C404.6,1009.6 369.0,1011.1 335.0,1011.1C301.0,1011.1 263.3,1008.8 236.8,1007.3C210.3,1005.8 194.2,1003.6 175.9,1002.0C157.6,1000.4 135.6,998.5 127.2,997.4C118.8,996.2 126.0,995.5 125.7,995.1Z" fill="#88898c" stroke="#1a1a1a" stroke-width="1"/>
<path d="M146,965.5L176,968.5L195,972L194,974.5L175,971.5L148,969Z" fill="#fff" stroke="#1a1a1a" stroke-width="0.8"/>
<path d="M640.5,987.6C625.6,988.9 584.7,992.7 551.4,995.5C518.1,998.3 476.8,1002.2 440.7,1004.3C404.6,1006.4 369.0,1007.9 335.0,1007.9C301.0,1007.9 263.3,1005.6 236.8,1004.1C210.3,1002.6 193.5,1000.4 175.9,998.8C158.3,997.1 138.5,995.0 131.0,994.2" stroke="#1a1a1a" stroke-width="5.8" fill="none"/>
<path d="M640.5,987.6C625.6,988.9 584.7,992.7 551.4,995.5C518.1,998.3 476.8,1002.2 440.7,1004.3C404.6,1006.4 369.0,1007.9 335.0,1007.9C301.0,1007.9 263.3,1005.6 236.8,1004.1C210.3,1002.6 193.5,1000.4 175.9,998.8C158.3,997.1 138.5,995.0 131.0,994.2" stroke="#e1222b" stroke-width="3.9" fill="none"/>
<path d="M196.0,973.6C205.3,974.3 229.7,976.6 252.0,977.6C274.3,978.6 298.6,979.8 330.0,979.8C361.4,979.8 403.8,979.0 440.7,977.7C477.6,976.4 520.9,974.4 551.4,972.2C581.9,970.0 611.9,965.9 624.0,964.6" stroke="#1a1a1a" stroke-width="5.2" fill="none"/>
<path d="M196.0,973.6C205.3,974.3 229.7,976.6 252.0,977.6C274.3,978.6 298.6,979.8 330.0,979.8C361.4,979.8 403.8,979.0 440.7,977.7C477.6,976.4 520.9,974.4 551.4,972.2C581.9,970.0 611.9,965.9 624.0,964.6" stroke="#e1222b" stroke-width="3.4" fill="none"/>
<path d="M141.9,965.2L128.2,995.5" stroke="#1a1a1a" stroke-width="3.6"/>
<path d="M141.9,965.2L128.2,995.5" stroke="#e1222b" stroke-width="2.0"/>
<path d="M145.70000000000002,965.2L132.0,995.5" stroke="#1a1a1a" stroke-width="3.6"/>
<path d="M145.70000000000002,965.2L132.0,995.5" stroke="#e1222b" stroke-width="2.0"/>
<path d="M624.1,963.5L639.6,989.5" stroke="#1a1a1a" stroke-width="3.6"/>
<path d="M624.1,963.5L639.6,989.5" stroke="#e1222b" stroke-width="2.0"/>
<path d="M620.5,963.5L636.0,989.5" stroke="#1a1a1a" stroke-width="3.6"/>
<path d="M620.5,963.5L636.0,989.5" stroke="#e1222b" stroke-width="2.0"/>
<path d="M196.0,972.5C194.0,971.8 187.1,969.9 184.0,968.5C180.9,967.1 179.0,965.8 177.5,964.0C176.0,962.2 175.3,960.0 175.1,957.8C174.9,955.6 175.6,953.0 176.5,951.0C177.4,949.0 179.8,946.6 180.5,945.7" stroke="#1a1a1a" stroke-width="5" fill="none" stroke-linecap="butt"/>
<path d="M196.0,972.5C194.0,971.8 187.1,969.9 184.0,968.5C180.9,967.1 179.0,965.8 177.5,964.0C176.0,962.2 175.3,960.0 175.1,957.8C174.9,955.6 175.6,953.0 176.5,951.0C177.4,949.0 179.8,946.6 180.5,945.7" stroke="#e1222b" stroke-width="3.2" fill="none" stroke-linecap="butt"/>
<rect x="206.0" y="978.8" width="3.8" height="19.5" fill="#e1222b" stroke="#1a1a1a" stroke-width="0.7"/>
<rect x="256.2" y="982.0" width="3.8" height="19.7" fill="#e1222b" stroke="#1a1a1a" stroke-width="0.7"/>
<rect x="304.9" y="983.3" width="3.8" height="20.2" fill="#e1222b" stroke="#1a1a1a" stroke-width="0.7"/>
<rect x="355.8" y="983.5" width="3.8" height="20.4" fill="#e1222b" stroke="#1a1a1a" stroke-width="0.7"/>
<rect x="403.4" y="982.6" width="3.8" height="19.6" fill="#e1222b" stroke="#1a1a1a" stroke-width="0.7"/>
<rect x="455.4" y="981.1" width="3.8" height="18.6" fill="#e1222b" stroke="#1a1a1a" stroke-width="0.7"/>
<rect x="503.1" y="978.7" width="3.8" height="17.2" fill="#e1222b" stroke="#1a1a1a" stroke-width="0.7"/>
<rect x="548.4" y="976.5" width="3.8" height="15.8" fill="#e1222b" stroke="#1a1a1a" stroke-width="0.7"/>
<g stroke="#2a2a2a" stroke-width="0.9" fill="none"><rect x="192.5" y="980.0" width="4.8" height="12.6" rx="2.4"/><rect x="216.1" y="981.9" width="4.8" height="12.6" rx="2.4"/><rect x="242.0" y="983.7" width="4.8" height="12.6" rx="2.4"/><rect x="267.1" y="984.7" width="4.8" height="12.6" rx="2.4"/><rect x="292.3" y="985.5" width="4.8" height="12.6" rx="2.4"/><rect x="317.4" y="986.4" width="4.8" height="12.6" rx="2.4"/><rect x="345.3" y="986.4" width="4.8" height="12.6" rx="2.4"/><rect x="369.7" y="985.8" width="4.8" height="12.6" rx="2.4"/><rect x="394.0" y="985.1" width="4.8" height="12.6" rx="2.4"/><rect x="418.4" y="984.5" width="4.8" height="12.6" rx="2.4"/><rect x="442.7" y="983.7" width="4.8" height="12.6" rx="2.4"/><rect x="467.1" y="982.1" width="4.8" height="12.6" rx="2.4"/><rect x="491.5" y="980.5" width="4.8" height="12.6" rx="2.4"/><rect x="514.7" y="979.0" width="4.8" height="12.6" rx="2.4"/><rect x="538.0" y="977.5" width="4.8" height="12.6" rx="2.4"/><rect x="560.1" y="975.8" width="4.8" height="12.6" rx="2.4"/></g>
<path d="M157.3,1037.9L149,1066.5M190.5,1037.1L177.7,1089.8"/>
<path d="M139.0,1089.8C138.6,1091.6 136.1,1097.5 136.5,1100.6C136.9,1103.6 137.1,1105.8 141.5,1108.1C145.9,1110.4 157.8,1114.2 163.1,1114.7C168.4,1115.2 171.1,1113.1 173.1,1111.4C175.1,1109.8 174.5,1105.9 174.8,1104.8" fill="#fff"/>
<path d="M159.4,1044.1 L166.0,1045.4 L156.1,1085.6 L149.8,1084.0Z" fill="#e1222b" stroke="#1a1a1a" stroke-width="0.7"/>
<path d="M173.9,1046.6 L180.6,1047.9 L169.8,1088.1 L164.0,1086.5Z" fill="#e1222b" stroke="#1a1a1a" stroke-width="0.7"/>
<path d="M148.5,1078.5 L154.5,1080.0 L152.5,1089.0 L146.5,1087.5Z" fill="#fff" stroke="#1a1a1a" stroke-width="0.7"/>
<path d="M163.5,1080.5 L169.0,1082.0 L167.5,1090.0 L162.0,1088.5Z" fill="#fff" stroke="#1a1a1a" stroke-width="0.7"/>
<path d="M146.5,1094.8 L158.1,1096.9 L157.3,1102.3 L145.3,1099.4Z" fill="#e1222b" stroke="#1a1a1a" stroke-width="0.7"/>
<path d="M157.5,1096.5 L164.0,1099.0 L163.0,1103.5 L157.0,1102.0Z" fill="#e1222b" stroke="#1a1a1a" stroke-width="0.7"/>
<path d="M164.0,1099.0 L169.0,1101.0 L168.5,1105.0 L163.0,1103.5Z" fill="#fff" stroke="#1a1a1a" stroke-width="0.7"/>
<path d="M106.2,1040.4C108.3,1040.2 124.1,1037.0 127.4,1038.3C130.7,1039.6 136.8,1050.5 139.0,1053.3C141.2,1056.1 147.9,1063.8 149.0,1066.5C150.1,1069.2 150.1,1077.8 149.8,1079.8C149.6,1081.8 147.7,1085.6 146.5,1086.5C145.3,1087.4 139.4,1088.9 137.4,1089.0C135.4,1089.1 128.7,1088.2 126.6,1087.3C124.5,1086.4 117.8,1081.8 116.6,1079.8C115.4,1077.8 115.2,1070.0 115.0,1067.4C114.8,1064.8 115.9,1056.8 115.0,1054.1C114.1,1051.4 107.1,1041.8 106.2,1040.4" fill="#fff"/>
<path d="M120,1070.5L120.5,1072.5M132,1069L135,1070L138,1067L141,1071L143,1077L140,1080L136,1079.5M121,1079C126,1083 131,1085 135,1085.5M123,1082.5C127,1085.5 131,1087 134,1087.5"/>
<path d="M153.2,1086.5C163,1092 175,1100 184,1107M169.8,1088.1C176,1094 180,1100 184,1106" stroke-width="1.6"/>
<path d="M176.4,1108.9 L187.2,1101.5 L188.0,1112.2Z" fill="#1a1a1a"/>
<path d="M179.7,1112.2L179.7,1133.8C180,1135.5 181,1136.3 183,1136.6L199.7,1137.3C202,1137 203.5,1136 203.8,1133.8L203.8,1113" fill="#fff"/>
<path d="M183,1119.5L183,1132M188,1120L188,1133M193,1120L193,1133M198,1119.5L198,1132"/>
<ellipse cx="195.5" cy="1104" rx="12.8" ry="8.6" transform="rotate(28 195.5 1104)" fill="#fff"/>
<path d="M196,1097.5L199,1098.5L198.5,1102.5L196.5,1103"/>
<circle cx="69.8" cy="170.6" r="18.9" fill="#939598" stroke="none"/>
<path transform="translate(0.0,0.0)" d="M67.9,162.3L72.2,162.3L72.2,179.4L67.7,179.4L67.7,168.4C66.6,169.5 65.3,170.2 63.9,170.6L63.9,166.7C65.7,165.9 67.2,164.4 67.9,162.3Z" fill="#fff" stroke="#fff" stroke-width="0.5"/>
<circle cx="763.4" cy="170.6" r="18.9" fill="#939598" stroke="none"/>
<path transform="translate(756.69,179.11) scale(0.0119)" d="M71 0V-195Q126 -316 227.5 -431.0Q329 -546 483 -671Q631 -791 690.5 -869.0Q750 -947 750 -1022Q750 -1206 565 -1206Q475 -1206 427.5 -1157.5Q380 -1109 366 -1012L83 -1028Q107 -1224 229.5 -1327.0Q352 -1430 563 -1430Q791 -1430 913.0 -1326.0Q1035 -1222 1035 -1034Q1035 -935 996.0 -855.0Q957 -775 896.0 -707.5Q835 -640 760.5 -581.0Q686 -522 616.0 -466.0Q546 -410 488.5 -353.0Q431 -296 403 -231H1057V0Z" fill="#fff" stroke="#fff" stroke-width="45"/>
<circle cx="69.8" cy="548.6" r="18.9" fill="#939598" stroke="none"/>
<path transform="translate(63.18,556.97) scale(0.0119)" d="M1065 -391Q1065 -193 935.0 -85.0Q805 23 565 23Q338 23 204.0 -81.5Q70 -186 47 -383L333 -408Q360 -205 564 -205Q665 -205 721.0 -255.0Q777 -305 777 -408Q777 -502 709.0 -552.0Q641 -602 507 -602H409V-829H501Q622 -829 683.0 -878.5Q744 -928 744 -1020Q744 -1107 695.5 -1156.5Q647 -1206 554 -1206Q467 -1206 413.5 -1158.0Q360 -1110 352 -1022L71 -1042Q93 -1224 222.0 -1327.0Q351 -1430 559 -1430Q780 -1430 904.5 -1330.5Q1029 -1231 1029 -1055Q1029 -923 951.5 -838.0Q874 -753 728 -725V-721Q890 -702 977.5 -614.5Q1065 -527 1065 -391Z" fill="#fff" stroke="#fff" stroke-width="45"/>
<circle cx="763.4" cy="548.6" r="18.9" fill="#939598" stroke="none"/>
<path transform="translate(756.50,556.98) scale(0.0119)" d="M940 -287V0H672V-287H31V-498L626 -1409H940V-496H1128V-287ZM672 -957Q672 -1011 675.5 -1074.0Q679 -1137 681 -1155Q655 -1099 587 -993L260 -496H672Z" fill="#fff" stroke="#fff" stroke-width="45"/>
<circle cx="69.8" cy="926.6" r="18.9" fill="#939598" stroke="none"/>
<path transform="translate(62.99,934.86) scale(0.0119)" d="M1082 -469Q1082 -245 942.5 -112.5Q803 20 560 20Q348 20 220.5 -75.5Q93 -171 63 -352L344 -375Q366 -285 422.0 -244.0Q478 -203 563 -203Q668 -203 730.5 -270.0Q793 -337 793 -463Q793 -574 734.0 -640.5Q675 -707 569 -707Q452 -707 378 -616H104L153 -1409H1000V-1200H408L385 -844Q487 -934 640 -934Q841 -934 961.5 -809.0Q1082 -684 1082 -469Z" fill="#fff" stroke="#fff" stroke-width="45"/>
<circle cx="763.4" cy="926.6" r="18.9" fill="#939598" stroke="none"/>
<path transform="translate(756.62,934.99) scale(0.0119)" d="M1065 -461Q1065 -236 939.0 -108.0Q813 20 591 20Q342 20 208.5 -154.5Q75 -329 75 -672Q75 -1049 210.5 -1239.5Q346 -1430 598 -1430Q777 -1430 880.5 -1351.0Q984 -1272 1027 -1106L762 -1069Q724 -1208 592 -1208Q479 -1208 414.5 -1095.0Q350 -982 350 -752Q395 -827 475.0 -867.0Q555 -907 656 -907Q845 -907 955.0 -787.0Q1065 -667 1065 -461ZM783 -453Q783 -573 727.5 -636.5Q672 -700 575 -700Q482 -700 426.0 -640.5Q370 -581 370 -483Q370 -360 428.5 -279.5Q487 -199 582 -199Q677 -199 730.0 -266.5Q783 -334 783 -453Z" fill="#fff" stroke="#fff" stroke-width="45"/>
<!--/ART-->
</svg>
</body></html>
